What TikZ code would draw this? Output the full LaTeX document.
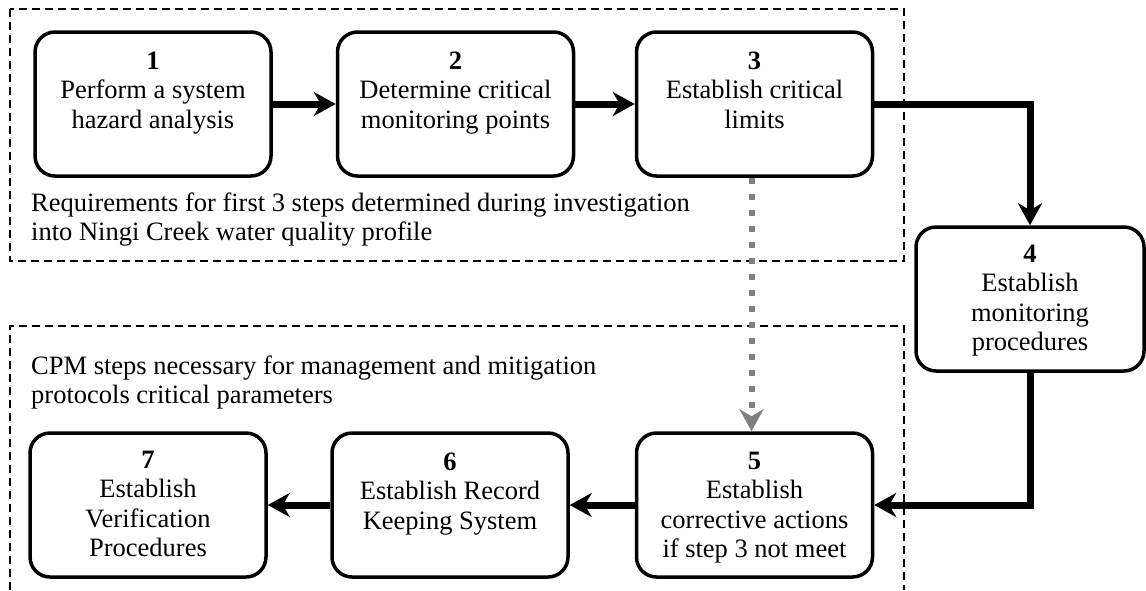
\documentclass[tikz,border=0pt]{standalone}
\usepackage{fontspec}
\setmainfont{Liberation Serif}
\usetikzlibrary{arrows.meta,positioning}
\newcommand{\topstrut}{\rule{0pt}{20pt}}

\begin{document}
\begin{tikzpicture}[x=1pt,y=-1pt,
  font=\fontsize{26.5}{29.5}\selectfont,
  stepbox/.style={draw,line width=3.5pt,rounded corners=20pt,minimum width=236pt,minimum height=144pt,inner sep=0pt},
  steptext/.style={align=center,inner sep=0pt},
  notetext/.style={align=left,inner sep=0pt,anchor=north west},
  zone/.style={line width=1.5pt,dash pattern=on 8pt off 5pt},
  flow/.style={line width=7pt,-{Stealth[length=22pt,width=24pt,inset=7pt]}},
  hint/.style={line width=6pt,gray,dash pattern=on 6pt off 10pt,-{Stealth[length=22pt,width=24pt,inset=7pt]}}]
\useasboundingbox (0,0) rectangle (1146,590);

% dashed groups
\draw[zone] (10,9) rectangle (904,261);
\draw[zone] (10,590) |- (904,326) -- (904,590);

% steps
\node[stepbox] (s1) at (153,104) {};
\node[stepbox] (s2) at (455.5,104) {};
\node[stepbox] (s3) at (754.5,104) {};
\node[stepbox,minimum width=228pt] (s4) at (1030,299) {};
\node[stepbox] (s5) at (754.5,505) {};
\node[stepbox] (s6) at (450,505) {};
\node[stepbox] (s7) at (148,505) {};

\node[steptext,below=19pt of s1.north] (t1) {\topstrut\textbf{1}\\Perform a system\\hazard analysis};
\node[steptext,below=19pt of s2.north] (t2) {\topstrut\textbf{2}\\Determine critical\\monitoring points};
\node[steptext,below=19pt of s3.north] (t3) {\topstrut\textbf{3}\\Establish critical\\limits};
\node[steptext,below=17pt of s4.north] (t4) {\topstrut\textbf{4}\\Establish\\monitoring\\procedures};
\node[steptext,below=18pt of s5.north] (t5) {\topstrut\textbf{5}\\Establish\\corrective actions\\if step 3 not meet};
\node[steptext,below=19pt of s6.north] (t6) {\topstrut\textbf{6}\\Establish Record\\Keeping System};
\node[steptext,below=17pt of s7.north] (t7) {\topstrut\textbf{7}\\Establish\\Verification\\Procedures};

% notes
\node[notetext] (req) at (31,191) {\topstrut Requirements for first 3 steps determined during investigation\\into Ningi Creek water quality profile};
\node[notetext] (cpm) at (31,354) {\topstrut CPM steps necessary for management and mitigation\\protocols critical parameters};

% connectors
\draw[flow] (s1) -- (s2);
\draw[flow] (s2) -- (s3);
\draw[flow] (s3.east) -| (s4.north);
\draw[flow] (s4.south) |- (s5.east);
\draw[flow] (s5) -- (s6);
\draw[flow] (s6) -- (s7);
\draw[hint] ([xshift=-3pt]s3.south) -- ([xshift=-3pt]s5.north);
\end{tikzpicture}
\end{document}
